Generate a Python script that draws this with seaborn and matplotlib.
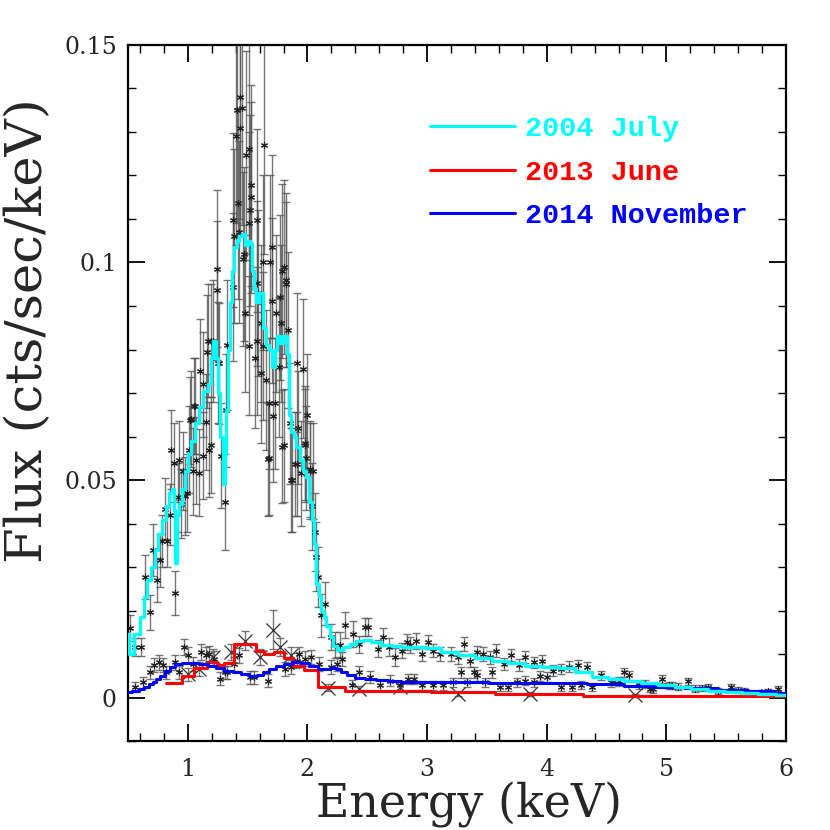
import matplotlib
matplotlib.use("Agg")
import matplotlib.pyplot as plt
import seaborn as sns
import pandas as pd
from matplotlib.ticker import MultipleLocator
from matplotlib.font_manager import FontProperties

# ---------------- model curves (energy keV, flux cts/s/keV) ----------------
jul04_model_e = [0.50, 0.515, 0.585, 0.62, 0.645, 0.68, 0.71, 0.74, 0.77, 0.80, 0.83, 0.855,
                 0.875, 0.89, 0.90, 0.915, 0.94, 0.97, 0.99, 1.02, 1.04, 1.08, 1.11, 1.15,
                 1.18, 1.20, 1.227, 1.24, 1.26, 1.28, 1.30, 1.315, 1.325, 1.345, 1.367, 1.38,
                 1.40, 1.42, 1.44, 1.47, 1.49, 1.51, 1.53, 1.55, 1.56, 1.585, 1.61, 1.645,
                 1.67, 1.69, 1.715, 1.74, 1.757, 1.78, 1.81, 1.84, 1.854, 1.875, 1.896, 1.92,
                 1.95, 1.98, 2.00, 2.03, 2.05, 2.06, 2.08, 2.105, 2.125, 2.147, 2.17, 2.20,
                 2.23, 2.27, 2.33, 2.38, 2.44, 2.49, 2.57, 2.66, 2.75, 2.83, 2.94, 3.05,
                 3.19, 3.33, 3.47, 3.61, 3.75, 3.89, 4.03, 4.17, 4.31, 4.45, 4.58, 4.72,
                 4.86, 5.00, 5.14, 5.28, 5.42, 5.56, 5.70, 5.84, 6.00]
jul04_model_f = [0.0147, 0.0100, 0.0147, 0.0185, 0.0230, 0.0270, 0.0300, 0.0338, 0.0377, 0.0407,
                 0.0440, 0.0470, 0.0480, 0.0430, 0.0310, 0.0420, 0.0446, 0.0480, 0.0520, 0.0560,
                 0.0590, 0.0630, 0.0668, 0.0705, 0.0720, 0.0780, 0.0820, 0.0780, 0.0700, 0.0600,
                 0.0490, 0.0560, 0.0660, 0.0800, 0.0910, 0.0980, 0.1035, 0.1050, 0.1060, 0.1065,
                 0.1040, 0.1050, 0.1045, 0.0980, 0.0940, 0.0910, 0.0930, 0.0850, 0.0810, 0.0800,
                 0.0760, 0.0800, 0.0830, 0.0815, 0.0830, 0.0790, 0.0650, 0.0610, 0.0600, 0.0575,
                 0.0545, 0.0520, 0.0506, 0.0450, 0.0407, 0.0354, 0.0260, 0.0234, 0.0200, 0.0184,
                 0.0165, 0.0140, 0.0118, 0.0110, 0.0115, 0.0124, 0.0130, 0.0133, 0.0127, 0.0120,
                 0.0118, 0.0115, 0.0115, 0.0113, 0.0105, 0.0097, 0.0091, 0.0085, 0.0079, 0.0073,
                 0.0070, 0.0067, 0.0058, 0.0047, 0.0043, 0.0039, 0.0033, 0.0028, 0.0024, 0.0020,
                 0.0016, 0.0012, 0.0011, 0.0009, 0.0006]

jun13_model_e = [0.82, 0.95, 1.05, 1.16, 1.24, 1.30, 1.39, 1.57, 1.64, 1.72, 1.80, 1.88,
                 1.97, 2.09, 2.31, 3.03, 3.57, 4.30, 6.00]
jun13_model_f = [0.0034, 0.0050, 0.0069, 0.0082, 0.0075, 0.0080, 0.0124, 0.0108, 0.0101,
                 0.0104, 0.0090, 0.0073, 0.0064, 0.0024, 0.0016, 0.0012, 0.0008, 0.0003, 0.0003]

nov14_model_e = [0.50, 0.57, 0.62, 0.655, 0.69, 0.72, 0.75, 0.79, 0.83, 0.87, 0.92, 0.99,
                 1.06, 1.13, 1.20, 1.27, 1.34, 1.41, 1.48, 1.55, 1.60, 1.65, 1.70, 1.77,
                 1.84, 1.91, 1.97, 2.05, 2.12, 2.17, 2.21, 2.26, 2.30, 2.36, 2.44, 2.52,
                 2.62, 2.72, 2.85, 3.00, 3.33, 3.70, 4.17, 4.50, 4.80, 5.00, 5.30, 5.56,
                 5.80, 6.00]
nov14_model_f = [0.0012, 0.0015, 0.0019, 0.0024, 0.0030, 0.0036, 0.0042, 0.0050, 0.0062, 0.0070,
                 0.0076, 0.0079, 0.0080, 0.0078, 0.0073, 0.0067, 0.0062, 0.0058, 0.0053, 0.0050,
                 0.0052, 0.0058, 0.0066, 0.0073, 0.0078, 0.0081, 0.0079, 0.0073, 0.0066, 0.0066,
                 0.0069, 0.0065, 0.0058, 0.0051, 0.0046, 0.0043, 0.0040, 0.0037, 0.0036, 0.0035,
                 0.0035, 0.0034, 0.0033, 0.0030, 0.0027, 0.0025, 0.0021, 0.0018, 0.0014, 0.0010]

# ---------------- observed spectra ----------------
jul04_e = [0.514, 0.556, 0.61, 0.64, 0.68, 0.71, 0.745, 0.765, 0.787, 0.806, 0.828, 0.848, 0.862,
           0.884, 0.895, 0.918, 0.923, 0.94, 0.96, 0.98, 0.99, 1.01, 1.02, 1.03, 1.04, 1.05,
           1.06, 1.07, 1.09, 1.10, 1.13, 1.13, 1.15, 1.16, 1.17, 1.18, 1.19, 1.19, 1.21, 1.24,
           1.24, 1.25, 1.26, 1.28, 1.31, 1.32, 1.33, 1.38, 1.38, 1.39, 1.40, 1.41, 1.42, 1.43,
           1.44, 1.44, 1.45, 1.46, 1.47, 1.48, 1.49, 1.51, 1.51, 1.51, 1.52, 1.53, 1.53, 1.56,
           1.58, 1.58, 1.58, 1.59, 1.61, 1.61, 1.63, 1.63, 1.64, 1.65, 1.67, 1.68, 1.68, 1.69,
           1.70, 1.70, 1.71, 1.73, 1.74, 1.76, 1.77, 1.78, 1.79, 1.79, 1.80, 1.80, 1.82, 1.82,
           1.84, 1.85, 1.86, 1.87, 1.90, 1.91, 1.91, 1.92, 1.95, 1.96, 1.98, 1.98, 1.99, 2.00,
           2.02, 2.02, 2.04, 2.05, 2.06, 2.07, 2.09, 2.11, 2.15, 2.20, 2.23, 2.27, 2.31, 2.38,
           2.43, 2.48, 2.51, 2.59, 2.63, 2.68, 2.73, 2.79, 2.83, 2.86, 2.91, 2.96, 3.01, 3.05,
           3.11, 3.20, 3.26, 3.31, 3.36, 3.42, 3.47, 3.53, 3.58, 3.64, 3.70, 3.77, 3.82, 3.89,
           3.96, 4.05, 4.12, 4.19, 4.26, 4.34, 4.45, 4.54, 4.60, 4.65, 4.69, 4.82, 4.89, 4.96,
           5.02, 5.10, 5.18, 5.24, 5.35, 5.43, 5.54, 5.65, 5.79, 5.93]
jul04_f = [0.0159, 0.0116, 0.0116, 0.0277, 0.0196, 0.0340, 0.0270, 0.0315, 0.0360, 0.0434, 0.0360,
           0.0420, 0.0570, 0.0540, 0.0240, 0.0460, 0.0545, 0.0446, 0.0520, 0.0464, 0.0470, 0.0570,
           0.0637, 0.0640, 0.0520, 0.0670, 0.0670, 0.0545, 0.0517, 0.0750, 0.0556, 0.0720, 0.0633,
           0.0795, 0.0820, 0.0570, 0.0580, 0.0820, 0.0820, 0.0986, 0.0936, 0.0770, 0.0768, 0.0556,
           0.0450, 0.0660, 0.0810, 0.0944, 0.1097, 0.1062, 0.1290, 0.1350, 0.1136, 0.1070, 0.1310,
           0.1380, 0.1356, 0.1007, 0.1020, 0.0883, 0.1246, 0.1260, 0.0809, 0.1090, 0.1120, 0.1177,
           0.1150, 0.0780, 0.1097, 0.0952, 0.0820, 0.0930, 0.0860, 0.0745, 0.1000, 0.0808, 0.1270,
           0.0730, 0.0548, 0.0676, 0.0550, 0.1000, 0.1036, 0.0912, 0.0646, 0.0676, 0.0883, 0.0760,
           0.0920, 0.0860, 0.0980, 0.0577, 0.0990, 0.0580, 0.0950, 0.0960, 0.0845, 0.0630, 0.0500,
           0.0500, 0.0537, 0.0770, 0.0537, 0.0620, 0.0515, 0.0756, 0.0580, 0.0585, 0.0550, 0.0650,
           0.0520, 0.0526, 0.0440, 0.0520, 0.0380, 0.0324, 0.0277, 0.0189, 0.0216, 0.0139, 0.0120,
           0.0120, 0.0166, 0.0146, 0.0122, 0.0162, 0.0162, 0.0112, 0.0139, 0.0116, 0.0093, 0.0108,
           0.0127, 0.0120, 0.0130, 0.0100, 0.0127, 0.0108, 0.0100, 0.0100, 0.0093, 0.0123, 0.0085,
           0.0104, 0.0100, 0.0093, 0.0108, 0.0077, 0.0097, 0.0074, 0.0093, 0.0081, 0.0085, 0.0062,
           0.0066, 0.0071, 0.0074, 0.0070, 0.0051, 0.0035, 0.0037, 0.0058, 0.0051, 0.0031, 0.0020,
           0.0043, 0.0028, 0.0025, 0.0037, 0.0020, 0.0024, 0.0015, 0.0024, 0.0015, 0.0012, 0.0020]
jul04_err = [0.003, 0.002, 0.002, 0.005, 0.004, 0.006, 0.005, 0.006, 0.006, 0.007, 0.006, 0.007,
             0.009, 0.009, 0.005, 0.008, 0.009, 0.008, 0.009, 0.009, 0.009, 0.010, 0.010, 0.011,
             0.010, 0.011, 0.011, 0.010, 0.010, 0.012, 0.010, 0.012, 0.011, 0.013, 0.013, 0.011,
             0.011, 0.013, 0.014, 0.018, 0.016, 0.014, 0.014, 0.012, 0.011, 0.013, 0.015, 0.017,
             0.020, 0.020, 0.025, 0.026, 0.022, 0.021, 0.025, 0.028, 0.027, 0.020, 0.020, 0.018,
             0.024, 0.024, 0.016, 0.021, 0.022, 0.023, 0.022, 0.016, 0.021, 0.019, 0.017, 0.019,
             0.018, 0.016, 0.020, 0.017, 0.025, 0.016, 0.013, 0.015, 0.013, 0.020, 0.021, 0.019,
             0.015, 0.015, 0.018, 0.016, 0.019, 0.018, 0.020, 0.013, 0.020, 0.013, 0.019, 0.020,
             0.018, 0.014, 0.012, 0.012, 0.012, 0.016, 0.012, 0.013, 0.012, 0.016, 0.013, 0.013,
             0.012, 0.014, 0.011, 0.011, 0.010, 0.011, 0.009, 0.008, 0.007, 0.005, 0.005, 0.003,
             0.003, 0.003, 0.003, 0.003, 0.002, 0.002, 0.002, 0.002, 0.002, 0.002, 0.002, 0.0018,
             0.0018, 0.0018, 0.0018, 0.0016, 0.0016, 0.0016, 0.0016, 0.0016, 0.0015, 0.0016, 0.0015,
             0.0015, 0.0015, 0.0015, 0.0015, 0.0014, 0.0014, 0.0014, 0.0014, 0.0013, 0.0013, 0.0012,
             0.0012, 0.0012, 0.0012, 0.0012, 0.0011, 0.0010, 0.0010, 0.0011, 0.0010, 0.0009, 0.0009,
             0.0009, 0.0008, 0.0008, 0.0008, 0.0008, 0.0007, 0.0007, 0.0007, 0.0006, 0.0006, 0.0006]

nov14_e = [0.56, 0.625, 0.68, 0.72, 0.76, 0.79, 0.82, 0.89, 0.93, 0.97, 1.00, 1.04, 1.11, 1.15,
           1.18, 1.22, 1.27, 1.31, 1.33, 1.39, 1.43, 1.52, 1.55, 1.67, 1.81, 1.86, 1.91, 1.93,
           1.98, 2.03, 2.10, 2.20, 2.25, 2.29, 2.37, 2.43, 2.52, 2.61, 2.69, 2.77, 2.84, 2.89,
           2.96, 3.05, 3.13, 3.22, 3.28, 3.33, 3.39, 3.42, 3.48, 3.54, 3.61, 3.68, 3.75, 3.82,
           3.89, 3.94, 4.00, 4.12, 4.21, 4.29, 4.38, 4.56, 4.77, 4.86, 5.05, 5.30, 5.60, 5.85]
nov14_f = [0.0024, 0.0035, 0.0058, 0.0074, 0.0081, 0.0074, 0.0058, 0.0081, 0.0058, 0.0116, 0.0097,
           0.0077, 0.0104, 0.0097, 0.0100, 0.0089, 0.0043, 0.0058, 0.0058, 0.0077, 0.0097, 0.0047,
           0.0047, 0.0039, 0.0066, 0.0070, 0.0085, 0.0100, 0.0089, 0.0093, 0.0077, 0.0070, 0.0077,
           0.0089, 0.0028, 0.0058, 0.0047, 0.0028, 0.0039, 0.0028, 0.0043, 0.0043, 0.0028, 0.0028,
           0.0028, 0.0035, 0.0058, 0.0035, 0.0058, 0.0051, 0.0035, 0.0058, 0.0024, 0.0024, 0.0035,
           0.0039, 0.0035, 0.0050, 0.0047, 0.0024, 0.0024, 0.0028, 0.0025, 0.0037, 0.0028, 0.0020,
           0.0027, 0.0022, 0.0018, 0.0014]
nov14_err = [0.0012, 0.0013, 0.0015, 0.0016, 0.0017, 0.0016, 0.0015, 0.0017, 0.0015, 0.0018, 0.0018,
             0.0017, 0.0018, 0.0018, 0.0018, 0.0017, 0.0015, 0.0015, 0.0015, 0.0016, 0.0017, 0.0015,
             0.0015, 0.0014, 0.0016, 0.0016, 0.0017, 0.0017, 0.0017, 0.0017, 0.0016, 0.0016, 0.0016,
             0.0016, 0.0012, 0.0014, 0.0013, 0.0012, 0.0012, 0.0011, 0.0012, 0.0012, 0.0011, 0.0011,
             0.0011, 0.0011, 0.0012, 0.0011, 0.0012, 0.0012, 0.0011, 0.0012, 0.0010, 0.0010, 0.0010,
             0.0010, 0.0010, 0.0011, 0.0011, 0.0009, 0.0009, 0.0009, 0.0009, 0.0009, 0.0008, 0.0008,
             0.0008, 0.0007, 0.0007, 0.0006]

jun13_e = [1.00, 1.09, 1.21, 1.36, 1.475, 1.60, 1.71, 1.77, 1.86, 2.17, 2.43, 2.77, 3.26, 3.86, 4.74]
jun13_f = [0.0054, 0.0066, 0.0093, 0.0104, 0.0131, 0.0093, 0.0156, 0.0116, 0.0097, 0.0022, 0.0020,
           0.0024, 0.0008, 0.0008, 0.0005]
jun13_err = [0.0015, 0.0016, 0.0018, 0.0018, 0.0022, 0.0018, 0.0045, 0.0020, 0.0018, 0.0008, 0.0007,
             0.0007, 0.0005, 0.0005, 0.0004]

series_labels = ["2004 July", "2013 June", "2014 November"]
series_colors = ["#00ffff", "#ff0000", "#0000ff"]
x_ticks = [1, 2, 3, 4, 5, 6]
y_ticks = [0.0, 0.05, 0.10, 0.15]
y_tick_labels = ["0", "0.05", "0.1", "0.15"]

# ---------------- plotting ----------------
sns.set_style("ticks")
fig = plt.figure(figsize=(8.3, 8.3), dpi=100)
ax = fig.add_axes([0.1542, 0.1072, 0.7928, 0.8386])

err_kw = dict(fmt="none", ecolor="#555555", elinewidth=1.0, capsize=3, capthick=1.0, alpha=0.8, zorder=2)
ax.errorbar(jul04_e, jul04_f, yerr=jul04_err, **err_kw)
ax.errorbar(nov14_e, nov14_f, yerr=nov14_err, **err_kw)
ax.errorbar(jun13_e, jun13_f, yerr=jun13_err, **err_kw)

ax.plot(jul04_e, jul04_f, ls="none", marker=(6, 2, 0), ms=5, mew=0.8, color="#222222", zorder=3)
ax.plot(nov14_e, nov14_f, ls="none", marker=(6, 2, 0), ms=5, mew=0.8, color="#222222", zorder=3)
ax.plot(jun13_e, jun13_f, ls="none", marker="x", ms=10, mew=0.9, color="#333333", zorder=3)

df04 = pd.DataFrame({"E": jul04_model_e, "F": jul04_model_f})
df13 = pd.DataFrame({"E": jun13_model_e, "F": jun13_model_f})
df14 = pd.DataFrame({"E": nov14_model_e, "F": nov14_model_f})
sns.lineplot(data=df04, x="E", y="F", ax=ax, color=series_colors[0], lw=2.4,
             drawstyle="steps-mid", estimator=None, sort=False, label=series_labels[0], zorder=5)
sns.lineplot(data=df13, x="E", y="F", ax=ax, color=series_colors[1], lw=2.2,
             drawstyle="steps-post", estimator=None, sort=False, label=series_labels[1], zorder=4)
sns.lineplot(data=df14, x="E", y="F", ax=ax, color=series_colors[2], lw=2.2,
             drawstyle="steps-mid", estimator=None, sort=False, label=series_labels[2], zorder=4)

ax.set_xlim(0.5, 6.0)
ax.set_ylim(-0.01, 0.15)
ax.set_xticks(x_ticks)
ax.set_xticklabels([str(t) for t in x_ticks])
ax.set_yticks(y_ticks)
ax.set_yticklabels(y_tick_labels)
ax.xaxis.set_minor_locator(MultipleLocator(0.2))
ax.yaxis.set_minor_locator(MultipleLocator(0.01))
ax.tick_params(which="both", direction="in", top=True, right=True, color="black")
ax.tick_params(which="major", length=12, width=1.3)
ax.tick_params(which="minor", length=6, width=1.0)
ax.tick_params(axis="x", which="major", pad=12)
ax.tick_params(axis="y", which="major", pad=8)
for lab in ax.get_xticklabels() + ax.get_yticklabels():
    lab.set_fontfamily("DejaVu Serif")
    lab.set_fontsize(17)
for s in ax.spines.values():
    s.set_linewidth(1.6)
    s.set_color("black")

ax.set_xlabel("Energy (keV)", fontfamily="DejaVu Serif", fontsize=33, va="center", ha="center")
ax.xaxis.set_label_coords(0.518, -0.092)
ax.set_ylabel("Flux (cts/sec/keV)", fontfamily="DejaVu Serif", fontsize=37, va="center", ha="center")
ax.yaxis.set_label_coords(-0.152, 0.59)

leg = ax.legend(loc="upper left", bbox_to_anchor=(0.42, 0.935), frameon=False,
                labelcolor="linecolor", handlelength=3.0, handletextpad=0.35, labelspacing=0.62,
                prop=FontProperties(family="Liberation Mono", weight="bold", size=20.5))
for h in leg.get_lines():
    h.set_linewidth(2.2)

fig.savefig("out.png", dpi=100)
